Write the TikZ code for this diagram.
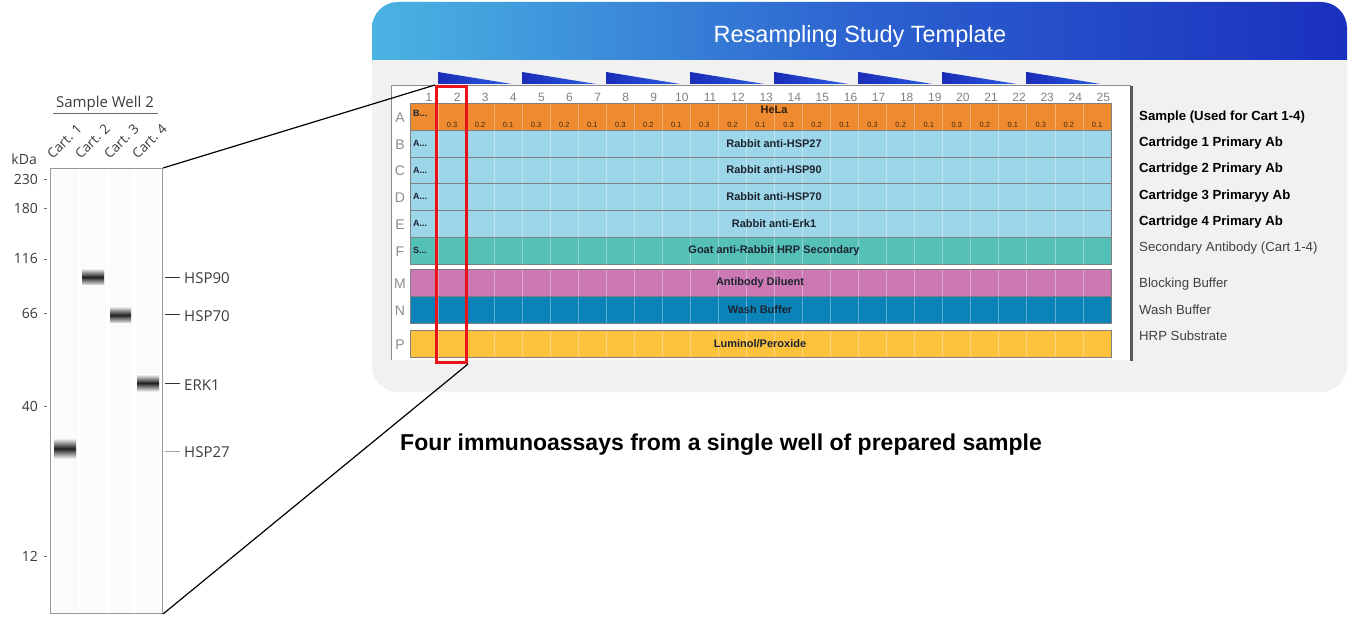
\documentclass[tikz,border=0pt]{standalone}
\usepackage{fontspec}
\setmainfont{Liberation Sans}
\newfontfamily\gelfont{Open Sans}
\usetikzlibrary{calc}
\definecolor{panelgray}{HTML}{F1F1F1}
\definecolor{hdrL}{HTML}{4AB4E2}
\definecolor{hdrM}{HTML}{2C62D0}
\definecolor{hdrR}{HTML}{1A30BE}
\definecolor{wedgeD}{HTML}{1A2CB8}
\definecolor{wedgeL}{HTML}{2A5FE0}
\definecolor{rowA}{HTML}{EE8A30}
\definecolor{rowB}{HTML}{9CD6E8}
\definecolor{rowF}{HTML}{55C0B6}
\definecolor{rowM}{HTML}{CC78B2}
\definecolor{rowN}{HTML}{0A84B8}
\definecolor{rowP}{HTML}{FCC23C}
\definecolor{redbox}{HTML}{E8141A}
\definecolor{geltext}{HTML}{3C3C3C}
\definecolor{platetext}{HTML}{1C2430}
\tikzset{
  numstyle/.style={text=black!50, font=\fontsize{12}{14}\selectfont, inner sep=0},
  rowletter/.style={text=black!45, font=\fontsize{14}{16}\selectfont, inner sep=0},
  cellline/.style={white, opacity=0.35, line width=0.8},
  rowborder/.style={draw=black!50, line width=0.9},
  platelbl/.style={text=platetext, font=\bfseries\fontsize{11}{12}\selectfont, inner sep=0},
  firstcol/.style={text=platetext, font=\bfseries\fontsize{9}{10}\selectfont, inner sep=0, anchor=west},
  valstyle/.style={text=black!70!rowA, font=\fontsize{7.5}{8}\selectfont, inner sep=0},
  rightbold/.style={anchor=west, text=black, font=\bfseries\fontsize{13.2}{15}\selectfont, inner sep=0},
  rightreg/.style={anchor=west, text=black!75, font=\fontsize{13.2}{15}\selectfont, inner sep=0},
  geltxt/.style={text=geltext, font=\gelfont\fontsize{14}{16}\selectfont, inner sep=0},
  carttxt/.style={text=geltext, font=\gelfont\fontsize{13.5}{15}\selectfont, inner sep=0, rotate=45, anchor=south west},
  kdatick/.style={draw=black!55, line width=0.8},
  band/.style={top color=black!8, bottom color=black!8, middle color=black!88},
  connector/.style={draw=black, line width=1.2},
}
\begin{document}
\begin{tikzpicture}[x=1pt,y=-1pt]
\useasboundingbox (0,0) rectangle (1349,617);
\fill[white] (0,0) rectangle (1349,617);

% ---------- panel ----------
\fill[panelgray, rounded corners=26pt] (372,2) rectangle (1347,392);
\begin{scope}
  \clip[rounded corners=26pt] (372,2) rectangle (1347,140);
  \shade[left color=hdrL, right color=hdrR, middle color=hdrM] (372,2) rectangle (1347,60);
\end{scope}
\node[text=white, font=\fontsize{23.5}{27}\selectfont, inner sep=0] (title) at (860,36) {Resampling Study Template};

% ---------- plate frame ----------
\fill[white] (391,86) rectangle (1131,360);
\draw[black!45, line width=1] (391,360) -- (391,86) -- (1131,86);
\draw[black!65, line width=3] (1131,86) -- (1131,361);

% wedges
\foreach \k in {0,...,7}
  \shade[left color=wedgeD, right color=wedgeL] ({438+\k*84.1},72) -- ({438+\k*84.1},84) -- ({512+\k*84.1},84) -- cycle;

% column numbers
\foreach \i in {1,...,25}
  \node[numstyle] (c\i) at ({429+(\i-1)*28.1},97) {\i};

% rows
\foreach \r/\ya/\yb/\col in {A/103/130/rowA, B/130/157/rowB, C/157/183/rowB, D/183/210/rowB, E/210/237/rowB, F/237/264/rowF, M/269/296/rowM, N/296/323/rowN, P/330/357/rowP}{
  \fill[\col] (410,\ya) rectangle (1111,\yb);
  \foreach \j in {1,...,24}
    \draw[cellline] ({410+\j*28.04},\ya) -- ({410+\j*28.04},\yb);
  \draw[rowborder] (410,\ya) rectangle (1111,\yb);
  \node[rowletter] (lbl\r) at (400,{(\ya+\yb)/2+1}) {\r};
}

% row A contents
\node[firstcol] (fA) at (413,113) {B...};
\node[platelbl, text=black!80!rowA] (hela) at (774,110) {HeLa};
\foreach \j in {2,...,25}{
  \pgfmathtruncatemacro{\m}{mod(\j-2,3)}
  \ifnum\m=0 \def\v{0.3}\fi
  \ifnum\m=1 \def\v{0.2}\fi
  \ifnum\m=2 \def\v{0.1}\fi
  \node[valstyle] (v\j) at ({410+(\j-0.5)*28.04},124.5) {\v};
}
% first column labels
\node[firstcol] (fB) at (413,143) {A...};
\node[firstcol] (fC) at (413,170) {A...};
\node[firstcol] (fD) at (413,196) {A...};
\node[firstcol] (fE) at (413,223) {A...};
\node[firstcol] (fF) at (413,250) {S...};
% centre labels
\node[platelbl] (tB) at (774,143.5) {Rabbit anti-HSP27};
\node[platelbl] (tC) at (774,170) {Rabbit anti-HSP90};
\node[platelbl] (tD) at (774,196.5) {Rabbit anti-HSP70};
\node[platelbl] (tE) at (774,223.5) {Rabbit anti-Erk1};
\node[platelbl] (tF) at (774,250.5) {Goat anti-Rabbit HRP Secondary};
\node[platelbl] (tM) at (760,282.5) {Antibody Diluent};
\node[platelbl] (tN) at (760,309.5) {Wash Buffer};
\node[platelbl] (tP) at (760,343.5) {Luminol/Peroxide};

% red highlight box
\node[draw=redbox, line width=3pt, minimum width=30pt, minimum height=276pt, inner sep=0, anchor=north west] (hl) at (435,85) {};

% right legend
\node[rightbold] (r1) at (1139,117) {Sample (Used for Cart 1-4)};
\node[rightbold] (r2) at (1139,143) {Cartridge 1 Primary Ab};
\node[rightbold] (r3) at (1139,169) {Cartridge 2 Primary Ab};
\node[rightbold] (r4) at (1139,196) {Cartridge 3 Primaryy Ab};
\node[rightbold] (r5) at (1139,222) {Cartridge 4 Primary Ab};
\node[rightreg] (r6) at (1139,248) {Secondary Antibody (Cart 1-4)};
\node[rightreg] (r7) at (1139,284) {Blocking Buffer};
\node[rightreg] (r8) at (1139,310) {Wash Buffer};
\node[rightreg] (r9) at (1139,336) {HRP Substrate};

% ---------- gel ----------
\fill[black!1.5] (53,169) rectangle (78,613);
\fill[black!1.5] (81,169) rectangle (106,613);
\fill[black!1.5] (109,169) rectangle (133,613);
\fill[black!1.5] (136,169) rectangle (160,613);
\shade[band] (54,439) rectangle (76,458);
\shade[band] (82,269) rectangle (104,285);
\shade[band] (110,307) rectangle (131,323);
\shade[band] (137,375) rectangle (159,391);
\node[draw=black!40, line width=1, minimum width=112pt, minimum height=445pt, inner sep=0, anchor=north west] (gel) at (50,168) {};

\node[geltxt, font=\gelfont\fontsize{15}{17}\selectfont] (well) at (105,104) {Sample Well 2};
\draw[black!60, line width=0.8] (53,113) -- (158,113);
\node[carttxt] (cart1) at (53,160) {Cart. 1};
\node[carttxt] (cart2) at (81,160) {Cart. 2};
\node[carttxt] (cart3) at (110,160) {Cart. 3};
\node[carttxt] (cart4) at (138,160) {Cart. 4};

\node[geltxt, anchor=east] (kda) at (37,159) {kDa};
\foreach \lab/\yy in {230/179, 180/208, 116/259, 66/313, 40/406, 12/556}{
  \node[geltxt, anchor=east] (k\lab) at (38,\yy) {\lab};
  \draw[kdatick] (44,\yy) -- (47,\yy);
}

\draw[black!80, line width=1] (165,278) -- (180,278);
\node[geltxt, font=\gelfont\fontsize{15}{17}\selectfont, anchor=west] (hsp90) at (184,278) {HSP90};
\draw[black!80, line width=1] (165,315) -- (180,315);
\node[geltxt, font=\gelfont\fontsize{15}{17}\selectfont, anchor=west] (hsp70) at (184,316) {HSP70};
\draw[black!80, line width=1] (165,384) -- (180,384);
\node[geltxt, font=\gelfont\fontsize{15}{17}\selectfont, anchor=west] (erk1) at (184,385) {ERK1};
\draw[black!35, line width=1] (165,451) -- (180,451);
\node[geltxt, font=\gelfont\fontsize{15}{17}\selectfont, anchor=west] (hsp27) at (184,452) {HSP27};

% connectors
\draw[connector] (gel.north east) -- (hl.north west);
\draw[connector] (gel.south east) -- (hl.south east);

% caption
\node[anchor=west, inner sep=0, font=\bfseries\fontsize{23}{27}\selectfont] (caption) at (400,445) {Four immunoassays from a single well of prepared sample};
\end{tikzpicture}
\end{document}
